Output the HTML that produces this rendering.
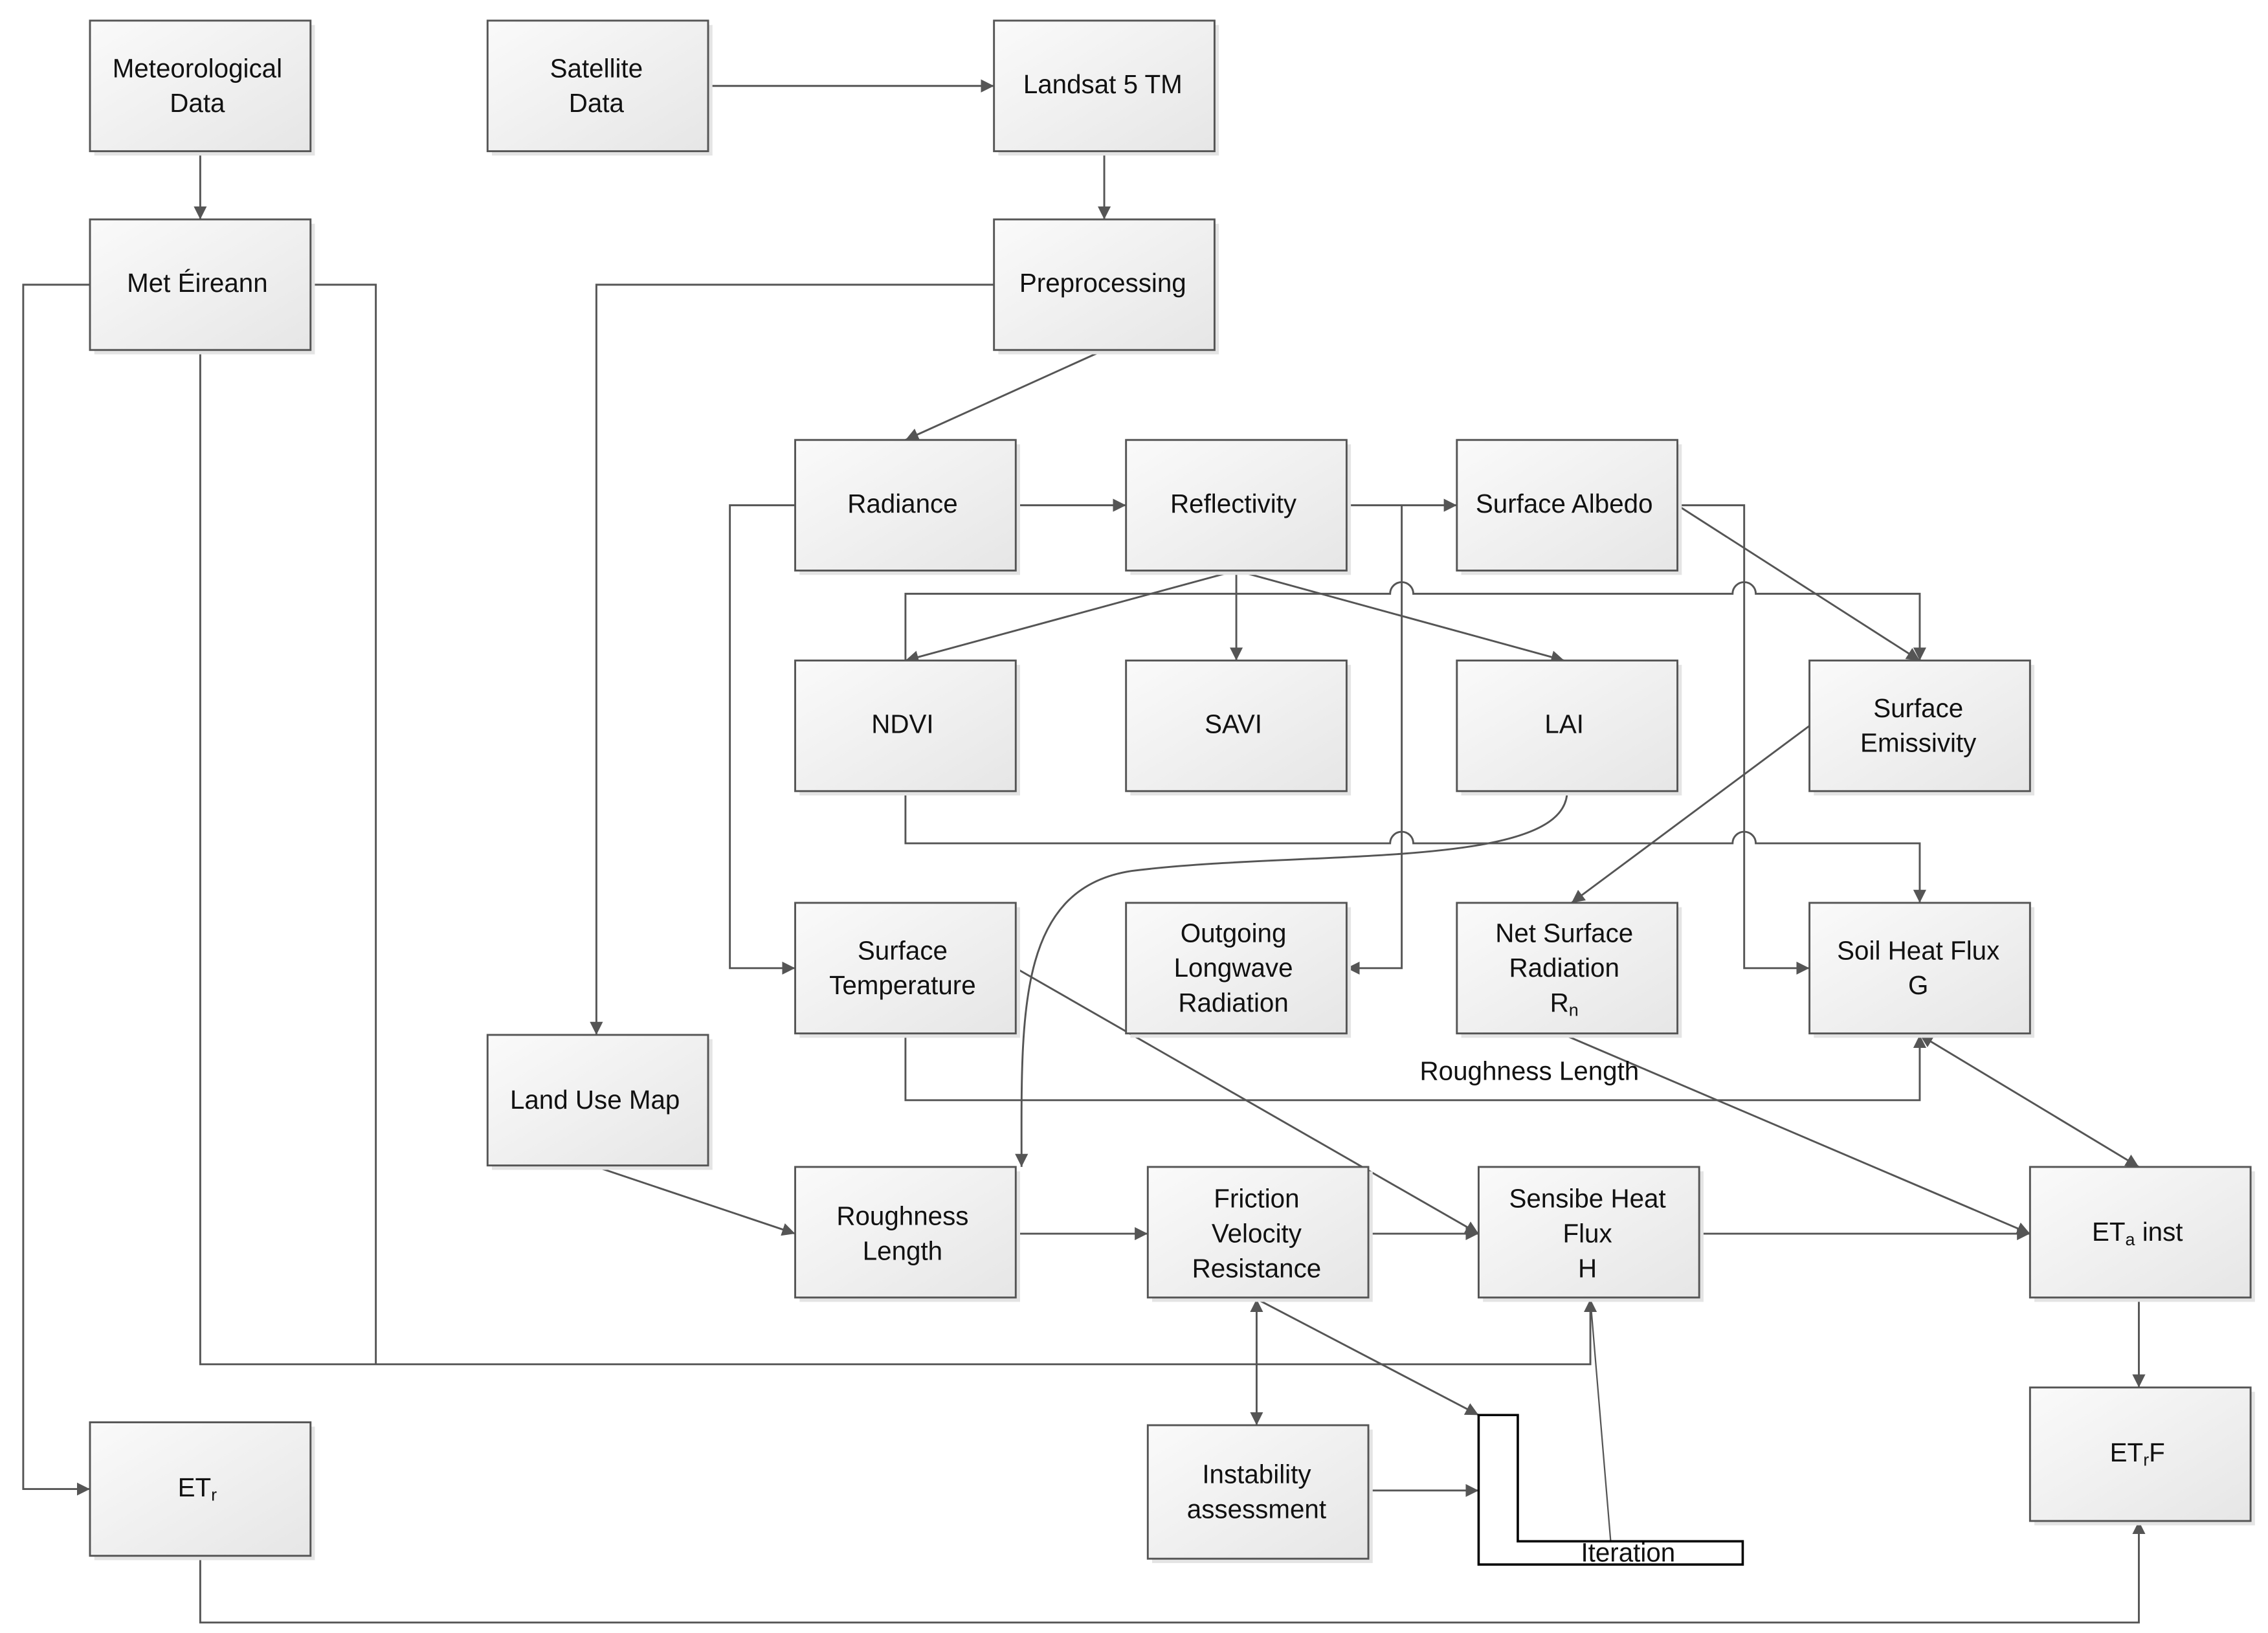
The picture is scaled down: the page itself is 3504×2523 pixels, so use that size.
<!DOCTYPE html>
<html><head><meta charset="utf-8"><style>
html,body{margin:0;padding:0;background:#fff;}
svg{display:block}
text{font-family:"Liberation Sans",sans-serif;font-size:18px;fill:#111;text-anchor:middle}
</style></head><body>
<svg width="3504" height="2523" viewBox="0 0 1563 1125" xmlns="http://www.w3.org/2000/svg">
<defs>
<linearGradient id="g" x1="0" y1="0" x2="1" y2="1"><stop offset="0" stop-color="#fafafa"/><stop offset="1" stop-color="#e6e6e6"/></linearGradient>
<marker id="a" viewBox="0 0 10 10" refX="10" refY="5" markerWidth="9" markerHeight="9" markerUnits="userSpaceOnUse" orient="auto-start-reverse"><path d="M0,0L10,5L0,10z" fill="#555"/></marker>
</defs>
<g fill="none" stroke="#555" stroke-width="1.3">
<path d="M138,104V151" marker-end="url(#a)"/>
<path d="M488,59H685" marker-end="url(#a)"/>
<path d="M761,104V151" marker-end="url(#a)"/>
<path d="M62,196H16V1026H62" marker-end="url(#a)"/>
<path d="M214,196H259V940"/>
<path d="M138,241V940H1096V895" marker-end="url(#a)"/>
<path d="M685,196H411V713" marker-end="url(#a)"/>
<path d="M761,241L624,303" marker-end="url(#a)"/>
<path d="M700,348H776" marker-end="url(#a)"/>
<path d="M548,348H503V667H548" marker-end="url(#a)"/>
<path d="M928,348H1004" marker-end="url(#a)"/>
<path d="M966,348V667H928" marker-end="url(#a)"/>
<path d="M852,393L624,455" marker-end="url(#a)"/>
<path d="M852,393V455" marker-end="url(#a)"/>
<path d="M852,393L1078,455" marker-end="url(#a)"/>
<path d="M624,455V409H958a8,8 0 0 1 16,0H1194a8,8 0 0 1 16,0H1323V455" marker-end="url(#a)"/>
<path d="M1156,348H1202V667H1247" marker-end="url(#a)"/>
<path d="M1156,348L1323,455" marker-end="url(#a)"/>
<path d="M624,545V581H958a8,8 0 0 1 16,0H1194a8,8 0 0 1 16,0H1323V622" marker-end="url(#a)"/>
<path d="M1080,545C1080,600 900,585 780,600C700,612 704,700 704,804" marker-end="url(#a)"/>
<path d="M1247,500L1083,622" marker-end="url(#a)"/>
<path d="M624,713V758H1323V713" marker-end="url(#a)"/>
<path d="M700,667L1019,850" marker-end="url(#a)"/>
<path d="M1078,713L1399,850" marker-end="url(#a)"/>
<path d="M1323,713L1474,804" marker-end="url(#a)" marker-start="url(#a)"/>
<path d="M411,804L548,850" marker-end="url(#a)"/>
<path d="M700,850H791" marker-end="url(#a)"/>
<path d="M943,850H1019" marker-end="url(#a)"/>
<path d="M1171,850H1399" marker-end="url(#a)"/>
<path d="M866,895V982" marker-end="url(#a)" marker-start="url(#a)"/>
<path d="M866,895L1019,975" marker-end="url(#a)"/>
<path d="M943,1027H1019" marker-end="url(#a)"/>
<path d="M1110,1062L1096,895" stroke-width="1"/>
<path d="M1474,895V956" marker-end="url(#a)"/>
<path d="M138,1073V1118H1474V1048" marker-end="url(#a)"/>
</g>
<path d="M1019,975H1046V1062H1201V1078H1019Z" fill="none" stroke="#000" stroke-width="1.6"/>
<g id="sh" fill="#e4e4e4" transform="translate(3,3)">
<rect x="62" y="14" width="152" height="90"/><rect x="336" y="14" width="152" height="90"/><rect x="685" y="14" width="152" height="90"/>
<rect x="62" y="151" width="152" height="90"/><rect x="685" y="151" width="152" height="90"/>
<rect x="548" y="303" width="152" height="90"/><rect x="776" y="303" width="152" height="90"/><rect x="1004" y="303" width="152" height="90"/>
<rect x="548" y="455" width="152" height="90"/><rect x="776" y="455" width="152" height="90"/><rect x="1004" y="455" width="152" height="90"/><rect x="1247" y="455" width="152" height="90"/>
<rect x="548" y="622" width="152" height="90"/><rect x="776" y="622" width="152" height="90"/><rect x="1004" y="622" width="152" height="90"/><rect x="1247" y="622" width="152" height="90"/>
<rect x="336" y="713" width="152" height="90"/><rect x="548" y="804" width="152" height="90"/><rect x="791" y="804" width="152" height="90"/><rect x="1019" y="804" width="152" height="90"/><rect x="1399" y="804" width="152" height="90"/>
<rect x="62" y="980" width="152" height="92"/><rect x="791" y="982" width="152" height="92"/><rect x="1399" y="956" width="152" height="92"/>
</g>
<g stroke="#555" stroke-width="1.3" fill="url(#g)">
<rect x="62" y="14" width="152" height="90"/>
<rect x="336" y="14" width="152" height="90"/>
<rect x="685" y="14" width="152" height="90"/>
<rect x="62" y="151" width="152" height="90"/>
<rect x="685" y="151" width="152" height="90"/>
<rect x="548" y="303" width="152" height="90"/>
<rect x="776" y="303" width="152" height="90"/>
<rect x="1004" y="303" width="152" height="90"/>
<rect x="548" y="455" width="152" height="90"/>
<rect x="776" y="455" width="152" height="90"/>
<rect x="1004" y="455" width="152" height="90"/>
<rect x="1247" y="455" width="152" height="90"/>
<rect x="548" y="622" width="152" height="90"/>
<rect x="776" y="622" width="152" height="90"/>
<rect x="1004" y="622" width="152" height="90"/>
<rect x="1247" y="622" width="152" height="90"/>
<rect x="336" y="713" width="152" height="90"/>
<rect x="548" y="804" width="152" height="90"/>
<rect x="791" y="804" width="152" height="90"/>
<rect x="1019" y="804" width="152" height="90"/>
<rect x="1399" y="804" width="152" height="90"/>
<rect x="62" y="980" width="152" height="92"/>
<rect x="791" y="982" width="152" height="92"/>
<rect x="1399" y="956" width="152" height="92"/>
</g>
<text x="136" y="53">Meteorological</text><text x="136" y="77">Data</text>
<text x="411" y="53">Satellite</text><text x="411" y="77">Data</text>
<text x="760" y="64">Landsat 5 TM</text>
<text x="136" y="201">Met Éireann</text>
<text x="760" y="201">Preprocessing</text>
<text x="622" y="353">Radiance</text>
<text x="850" y="353">Reflectivity</text>
<text x="1078" y="353">Surface Albedo</text>
<text x="622" y="505">NDVI</text>
<text x="850" y="505">SAVI</text>
<text x="1078" y="505">LAI</text>
<text x="1322" y="494">Surface</text><text x="1322" y="518">Emissivity</text>
<text x="622" y="661">Surface</text><text x="622" y="685">Temperature</text>
<text x="850" y="649">Outgoing</text><text x="850" y="673">Longwave</text><text x="850" y="697">Radiation</text>
<text x="1078" y="649">Net Surface</text><text x="1078" y="673">Radiation</text><text x="1078" y="697">R<tspan font-size="12" dy="3">n</tspan></text>
<text x="1322" y="661">Soil Heat Flux</text><text x="1322" y="685">G</text>
<text x="1054" y="744">Roughness Length</text>
<text x="410" y="764">Land Use Map</text>
<text x="622" y="844">Roughness</text><text x="622" y="868">Length</text>
<text x="866" y="832">Friction</text><text x="866" y="856">Velocity</text><text x="866" y="880">Resistance</text>
<text x="1094" y="832">Sensibe Heat</text><text x="1094" y="856">Flux</text><text x="1094" y="880">H</text>
<text x="1473" y="855">ET<tspan font-size="12" dy="3">a</tspan><tspan dy="-3"> inst</tspan></text>
<text x="136" y="1031">ET<tspan font-size="12" dy="3">r</tspan></text>
<text x="866" y="1022">Instability</text><text x="866" y="1046">assessment</text>
<text x="1473" y="1007">ET<tspan font-size="12" dy="3">r</tspan><tspan dy="-3">F</tspan></text>
<text x="1122" y="1076">Iteration</text>
</svg>
</body></html>
